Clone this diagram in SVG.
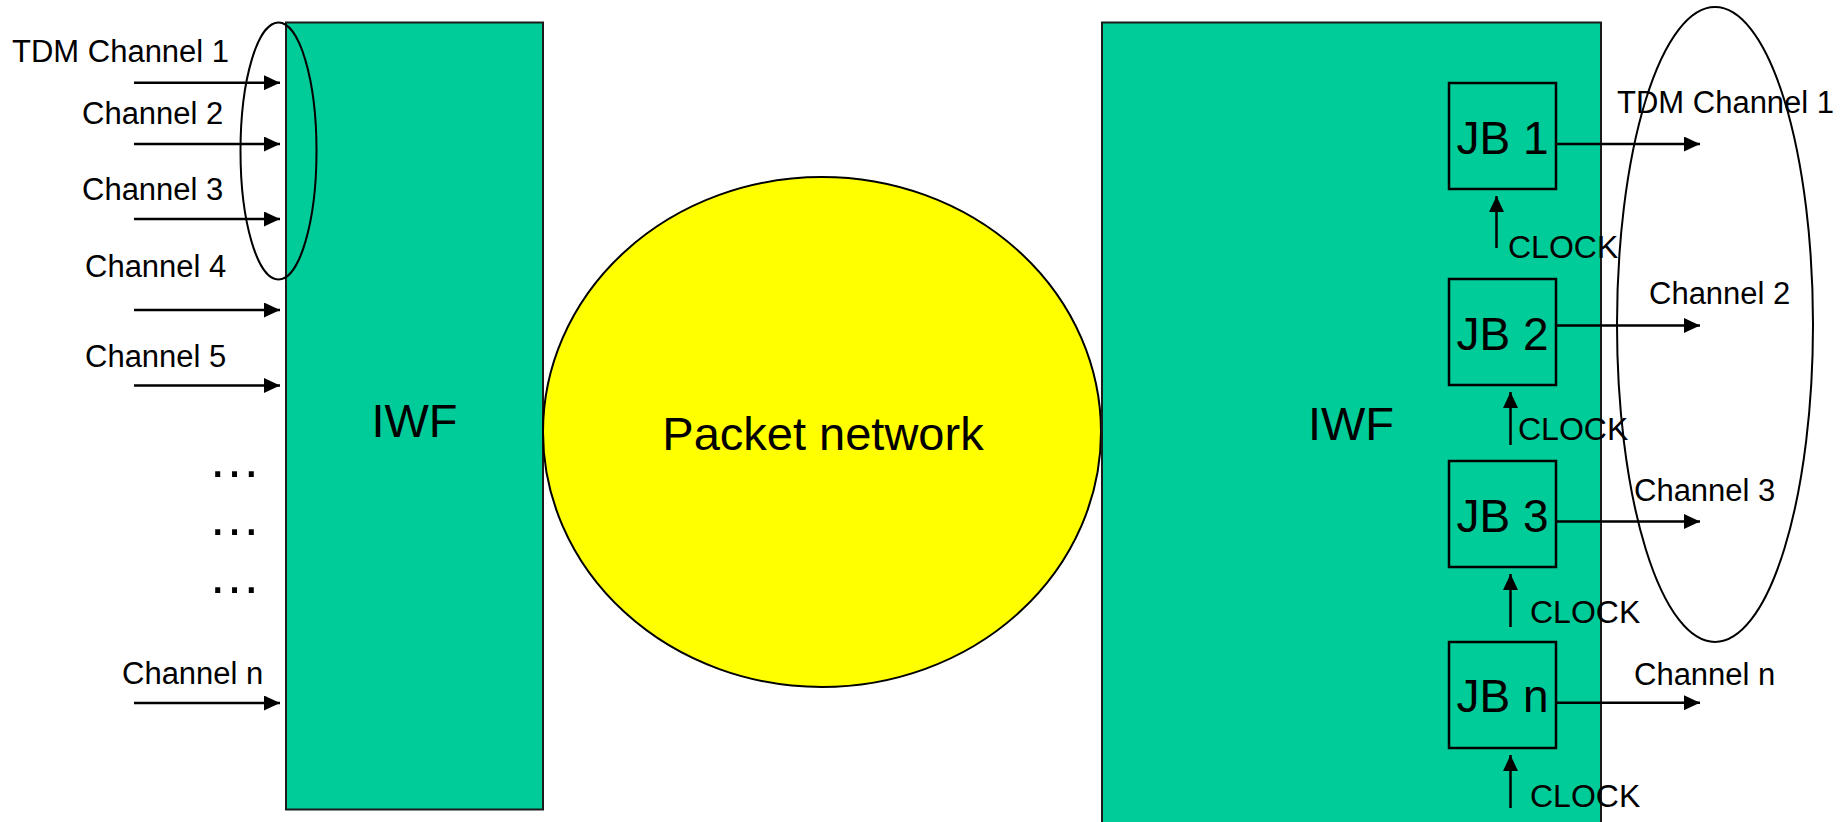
<svg xmlns="http://www.w3.org/2000/svg" width="1847" height="822" viewBox="0 0 1847 822">
<style>
text{font-family:"Liberation Sans",Arial,sans-serif;fill:#000}
.lbl{font-size:31px}
.clk{font-size:32px}
.big{font-size:47px}
.jb{font-size:46px;text-anchor:middle}
.box{fill:#00CC99;stroke:#000;stroke-width:2.5}
.iwf{fill:#00CC99;stroke:#1a1a1a;stroke-width:2}
.con{stroke:#000;stroke-width:2.5;fill:none}
.ring{fill:none;stroke:#000;stroke-width:2}
</style>
<defs>
<marker id="ah" markerWidth="16" markerHeight="15" refX="16" refY="7.5" orient="auto" markerUnits="userSpaceOnUse"><path d="M0,0 L16,7.5 L0,15 z" fill="#000"/></marker>
</defs>
<rect width="1847" height="822" fill="#fff"/>

<g id="iwf-left">
<rect class="iwf" x="286" y="22.5" width="257" height="787"/>
<text class="big" x="414.5" y="437" text-anchor="middle">IWF</text>
</g>

<g id="packet-network">
<ellipse cx="822" cy="432" rx="279" ry="255" fill="#FFFF00" stroke="#000" stroke-width="2"/>
<text class="big" x="823" y="450" text-anchor="middle">Packet network</text>
</g>

<g id="iwf-right">
<rect class="iwf" x="1102" y="22.5" width="499" height="812"/>
<text class="big" x="1351" y="440" text-anchor="middle">IWF</text>
</g>

<g id="jb1"><rect class="box" x="1449" y="83" width="107" height="106"/><text class="jb" x="1502.5" y="153.5">JB 1</text></g>
<g id="jb2"><rect class="box" x="1449" y="279" width="107" height="106"/><text class="jb" x="1502.5" y="349.5">JB 2</text></g>
<g id="jb3"><rect class="box" x="1449" y="461" width="107" height="106"/><text class="jb" x="1502.5" y="531.5">JB 3</text></g>
<g id="jbn"><rect class="box" x="1449" y="642" width="107" height="106"/><text class="jb" x="1502.5" y="712">JB n</text></g>

<g id="left-labels">
<text class="lbl" x="12" y="62">TDM Channel 1</text>
<text class="lbl" x="82" y="123.5">Channel 2</text>
<text class="lbl" x="82" y="200">Channel 3</text>
<text class="lbl" x="85" y="277">Channel 4</text>
<text class="lbl" x="85" y="367">Channel 5</text>
<text class="lbl" x="122" y="684">Channel n</text>
<text x="208" y="477" style="font-size:53px">…</text>
<text x="208" y="535" style="font-size:53px">…</text>
<text x="208" y="593" style="font-size:53px">…</text>
</g>

<g id="right-labels">
<text class="lbl" x="1617" y="113">TDM Channel 1</text>
<text class="lbl" x="1649" y="304">Channel 2</text>
<text class="lbl" x="1634" y="501">Channel 3</text>
<text class="lbl" x="1634" y="685">Channel n</text>
<text class="clk" x="1508" y="258">CLOCK</text>
<text class="clk" x="1518" y="440">CLOCK</text>
<text class="clk" x="1530" y="623">CLOCK</text>
<text class="clk" x="1530" y="807">CLOCK</text>
</g>

<g id="connectors">
<line class="con" x1="134" y1="82.7" x2="280" y2="82.7" marker-end="url(#ah)"/>
<line class="con" x1="134" y1="144" x2="280" y2="144" marker-end="url(#ah)"/>
<line class="con" x1="134" y1="219" x2="280" y2="219" marker-end="url(#ah)"/>
<line class="con" x1="134" y1="310" x2="280" y2="310" marker-end="url(#ah)"/>
<line class="con" x1="134" y1="385.5" x2="280" y2="385.5" marker-end="url(#ah)"/>
<line class="con" x1="134" y1="703" x2="280" y2="703" marker-end="url(#ah)"/>
<line class="con" x1="1556" y1="144" x2="1700" y2="144" marker-end="url(#ah)"/>
<line class="con" x1="1556" y1="325.5" x2="1700" y2="325.5" marker-end="url(#ah)"/>
<line class="con" x1="1556" y1="521.5" x2="1700" y2="521.5" marker-end="url(#ah)"/>
<line class="con" x1="1556" y1="702.7" x2="1700" y2="702.7" marker-end="url(#ah)"/>
<line class="con" x1="1496.5" y1="248" x2="1496.5" y2="196" marker-end="url(#ah)"/>
<line class="con" x1="1510.5" y1="445" x2="1510.5" y2="392" marker-end="url(#ah)"/>
<line class="con" x1="1510.5" y1="627" x2="1510.5" y2="574" marker-end="url(#ah)"/>
<line class="con" x1="1510.5" y1="808" x2="1510.5" y2="755" marker-end="url(#ah)"/>
</g>

<g id="group-left">
<ellipse class="ring" cx="278.5" cy="151" rx="38" ry="128.5"/>
</g>
<g id="group-right">
<ellipse class="ring" cx="1715" cy="324.5" rx="98" ry="317.5"/>
</g>
</svg>
